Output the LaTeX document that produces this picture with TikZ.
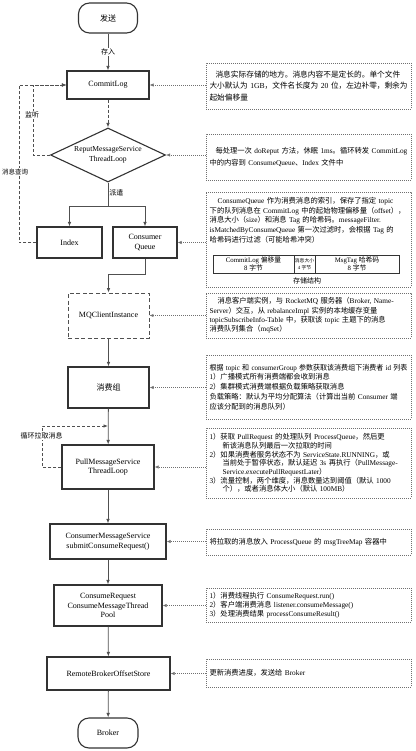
\documentclass[tikz,border=0pt]{standalone}
\usepackage{fontspec}
\setmainfont{Liberation Serif}
\newfontfamily\cjkfont{Noto Sans CJK SC}
\usetikzlibrary{arrows.meta,shapes.geometric}
\XeTeXinterchartokenstate=1
\newXeTeXintercharclass\cjkclass
\newcount\cjkcnt
\def\setcjkrange#1#2{\cjkcnt=#1\relax\loop\XeTeXcharclass\cjkcnt=\cjkclass\advance\cjkcnt by 1\relax\ifnum\cjkcnt<#2\repeat}
\setcjkrange{"4E00}{"A000}
\setcjkrange{"3000}{"3040}
\setcjkrange{"FF00}{"FFF0}
\XeTeXinterchartoks 0 \cjkclass = {\cjkfont}
\XeTeXinterchartoks 4095 \cjkclass = {\cjkfont}
\XeTeXinterchartoks \cjkclass 0 = {\rmfamily}
\XeTeXinterchartoks \cjkclass 4095 = {\rmfamily}
\definecolor{ln}{HTML}{505050}
\definecolor{bd}{HTML}{333333}
\definecolor{nt}{HTML}{707070}
\newsavebox\jlbox
\newcommand\jl[1]{\sbox\jlbox{#1}\ifdim\wd\jlbox>198pt\relax\resizebox{198pt}{\height}{\usebox\jlbox}\else\makebox[198pt][s]{#1}\fi}
\newcommand\fl[1]{\sbox\jlbox{#1}\ifdim\wd\jlbox>198pt\relax\resizebox{198pt}{\height}{\usebox\jlbox}\else\usebox\jlbox\fi}
\begin{document}
\begin{tikzpicture}[x=1pt,y=-1pt,
  box/.style={draw=bd, line width=1.1pt, fill=white, inner sep=1pt, align=center, font=\fontsize{8}{9.5}\selectfont},
  term/.style={box, rounded corners=11pt},
  conn/.style={draw=ln, line width=0.8pt},
  arr/.style={conn, -{Latex[length=4.5pt,width=3.6pt]}},
  dasharr/.style={arr, dash pattern=on 3pt off 2pt},
  notebox/.style={draw=nt, line width=0.6pt, dash pattern=on 0.7pt off 1.3pt, minimum width=205pt, inner sep=0pt},
  note/.style={notebox, text width=198pt, inner xsep=3.5pt, inner ysep=0pt, align=left, font=\fontsize{7.3}{9.5}\selectfont},
  notetext/.style={inner sep=0pt, text width=198pt, align=left, font=\fontsize{7.3}{9.7}\selectfont},
  notearr/.style={draw=nt, line width=0.6pt, dash pattern=on 0.7pt off 1.3pt, -{Latex[length=4pt,width=3.2pt]}},
  lab/.style={fill=white, inner sep=1pt, font=\fontsize{7}{8}\selectfont},
  cell/.style={draw=bd, line width=0.6pt, minimum height=18pt, inner sep=0pt, align=center, font=\fontsize{6.8}{7.6}\selectfont}
]
\useasboundingbox (0,0) rectangle (415,751);

% main column
\node[term, minimum width=59pt, minimum height=30pt] (send) at (108,18) {发送};
\node[box, minimum width=82pt, minimum height=28pt] (commitlog) at (108,85) {CommitLog};
\node[diamond, draw=bd, line width=1.1pt, fill=white, minimum width=115pt, minimum height=54pt, inner sep=0pt, aspect=2.1, align=center, font=\fontsize{7.6}{9.5}\selectfont] (reput) at (108,155) {ReputMessageService\\ThreadLoop};
\node[box, minimum width=65pt, minimum height=31pt] (index) at (69.5,242.5) {Index};
\node[box, minimum width=64pt, minimum height=31pt] (cq) at (145,242.5) {Consumer\\Queue};
\node[box, draw=ln, dash pattern=on 4pt off 2.5pt, line width=0.9pt, minimum width=81pt, minimum height=45pt] (mq) at (108.5,315.5) {MQClientInstance};
\node[box, minimum width=81pt, minimum height=41pt] (group) at (108.5,387.5) {消费组};
\node[box, minimum width=92pt, minimum height=44pt] (pull) at (108,467) {PullMessageService\\ThreadLoop};
\node[box, minimum width=116pt, minimum height=35pt] (cms) at (108,541.5) {ConsumerMessageService\\submitConsumeRequest()};
\node[box, minimum width=108pt, minimum height=41pt] (cr) at (108,605.5) {ConsumeRequest\\ConsumeMessageThread\\Pool};
\node[box, minimum width=123pt, minimum height=33pt] (rbo) at (108.5,673.5) {RemoteBrokerOffsetStore};
\node[term, minimum width=60pt, minimum height=30pt] (broker) at (108,733) {Broker};

% main connectors
\draw[arr] (send) -- node[lab] (lcr) {存入} (commitlog);
\draw[dasharr] (commitlog) -- (reput);
\draw[conn] (reput.south) -- node[lab, fill=none, right, pos=0.45] (lpq) {派遣} ++(0,24) coordinate (br);
\draw[arr] (br) -| (index.north);
\draw[arr] (br) -| (cq.north);
\draw[arr] (cq.south) -- ++(0,16) -| (mq.north);
\draw[arr] (mq) -- (group);
\draw[arr] (group) -- (pull);
\draw[arr] (pull) -- (cms);
\draw[arr] (cms) -- (cr);
\draw[arr] (cr) -- (rbo);
\draw[arr] (rbo) -- (broker);

% loops
\draw[dasharr] (index.west) -- ++(-17,0) |- (commitlog.west);
\draw[dasharr] (reput.west) -- ++(-17,0) |- (commitlog.west);
\node[lab] (ljt) at (32,115) {监听};
\node[lab, font=\fontsize{6.5}{7.5}\selectfont] (lcx) at (15,172) {消息查询};
\coordinate (loopend) at (108,426);
\draw[dasharr] (pull.west) -- ++(-19,0) |- (loopend);
\node[lab] (lxh) at (41.5,436) {循环拉取消息};

% annotations
\node[note, minimum height=46pt, font=\fontsize{7.7}{11.5}\selectfont] (a1) at (308.5,86) {\fl{\hspace*{6pt}消息实际存储的地方。消息内容不是定长的。单个文件}\\
\jl{大小默认为 1GB，文件名长度为 20 位，左边补零，剩余为}\\
起始偏移量};
\node[note, minimum height=46pt, font=\fontsize{7.3}{12}\selectfont] (a2) at (308.5,157) {\jl{\hspace*{6pt}每处理一次 doReput 方法，休眠 1ms。循环转发 CommitLog}\\
中的内容到 ConsumeQueue、Index 文件中};
\node[notebox, minimum height=95pt] (a3) at (308.5,239.5) {};
\node[notetext, anchor=north west] (a3t) at (209.5,197) {\jl{\hspace*{8pt}ConsumeQueue 作为消费消息的索引，保存了指定 topic}\\
\jl{下的队列消息在 CommitLog 中的起始物理偏移量（offset），}\\
\jl{消息大小（size）和消息 Tag 的哈希码。messageFilter.}\\
\jl{isMatchedByConsumeQueue 第一次过滤时，会根据 Tag 的}\\
哈希码进行过滤（可能哈希冲突）};
\node[cell, minimum width=81pt] (t1) at (253.5,264) {CommitLog 偏移量\\8 字节};
\node[cell, minimum width=21pt, font=\fontsize{4.8}{6.5}\selectfont] (t2) at (304.5,264) {消息大小\\4 字节};
\node[cell, minimum width=84pt] (t3) at (357,264) {MsgTag 哈希码\\8 字节};
\node[inner sep=0pt, font=\fontsize{7}{8}\selectfont] (cap) at (307,280.5) {存储结构};
\node[note, minimum height=45pt, font=\fontsize{7.3}{9.3}\selectfont] (a4) at (308.5,315.5) {\jl{\hspace*{8pt}消息客户端实例，与 RocketMQ 服务器（Broker, Name-}\\
\jl{Server）交互，从 rebalanceImpl 实例的本地缓存变量}\\
\jl{topicSubscribeInfo-Table 中，获取该 topic 主题下的消息}\\
消费队列集合（mqSet）};
\node[note, minimum height=64pt, font=\fontsize{7.3}{9.8}\selectfont] (a5) at (308.5,387) {\jl{根据 topic 和 consumerGroup 参数获取该消费组下消费者 id 列表}\\
1）广播模式所有消费端都会收到消息\\
2）集群模式消费端根据负载策略获取消息\\
\jl{负载策略：默认为平均分配算法（计算出当前 Consumer 端}\\
应该分配到的消息队列）};
\node[note, minimum height=70pt, font=\fontsize{7.3}{8.7}\selectfont] (a6) at (308.5,463) {\jl{1）获取 PullRequest 的处理队列 ProcessQueue，然后更}\\
\hspace*{13pt}新该消息队列最后一次拉取的时间\\
\jl{2）如果消费者服务状态不为 ServiceState.RUNNING，或}\\
\jl{\hspace*{13pt}当前处于暂停状态，默认延迟 3s 再执行（PullMessage-}\\
\hspace*{13pt}Service.executePullRequestLater）\\
\jl{3）流量控制，两个维度，消息数量达到阈值（默认 1000}\\
\hspace*{13pt}个），或者消息体大小（默认 100MB）};
\node[note, minimum height=26pt] (a7) at (308.5,542) {将拉取的消息放入 ProcessQueue 的 msgTreeMap 容器中};
\node[note, minimum height=34pt, font=\fontsize{7.3}{9}\selectfont] (a8) at (308.5,605) {1）消费线程执行 ConsumeRequest.run()\\
2）客户端消费消息 listener.consumeMessage()\\
3）处理消费结果 processConsumeResult()};
\node[note, minimum height=28pt] (a9) at (308.5,673) {更新消费进度，发送给 Broker};

% annotation arrows
\draw[notearr] (a1.west |- commitlog.east) -- (commitlog.east);
\draw[notearr] (a2.west |- reput.east) -- (reput.east);
\draw[notearr] (a3.west |- cq.east) -- (cq.east);
\draw[notearr] (a4.west |- mq.east) -- (mq.east);
\draw[notearr] (a5.west |- group.east) -- (group.east);
\draw[notearr] (a6.west |- pull.east) -- (pull.east);
\draw[notearr] (a7.west |- cms.east) -- (cms.east);
\draw[notearr] (a8.west |- cr.east) -- (cr.east);
\draw[notearr] (a9.west |- rbo.east) -- (rbo.east);
\end{tikzpicture}
\end{document}
